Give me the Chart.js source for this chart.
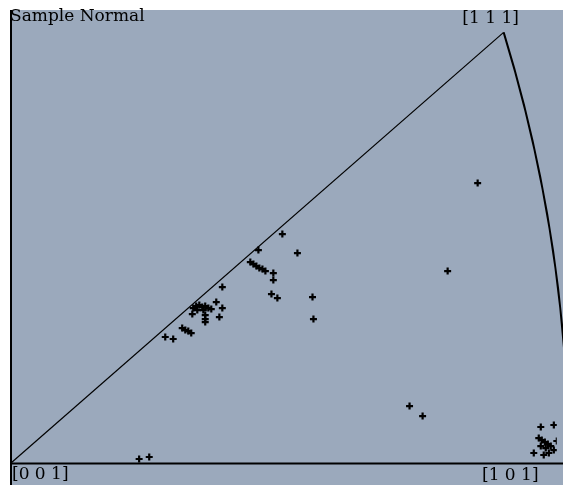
<!DOCTYPE html>
<html>
<head>
<meta charset="utf-8">
<script src="https://cdn.jsdelivr.net/npm/chart.js@4.4.1/dist/chart.umd.min.js"></script>
<style>
  html, body { margin: 0; padding: 0; background: #ffffff; }
  #wrap { width: 563px; height: 488px; }
</style>
</head>
<body>
<div id="wrap"><canvas id="chart" width="563" height="488"></canvas></div>
<script>
// stereographic coordinates of the measured poles (x, y)
const pointX = [0.3467, 0.3244, 0.2016, 0.2128, 0.1838, 0.1778, 0.1801, 0.1823, 0.1845, 0.1868,
    0.1890, 0.1949, 0.1949, 0.1935, 0.1979, 0.2240, 0.2247, 0.1570, 0.1525, 0.1354,
    0.1376, 0.1399, 0.1421, 0.1443, 0.1466, 0.1488, 0.1384, 0.1429, 0.1570, 0.1347,
    0.1443, 0.1443, 0.1443, 0.1548, 0.1272, 0.1295, 0.1317, 0.1339, 0.1146, 0.1205,
    0.0952, 0.1027, 0.2961, 0.3058, 0.3936, 0.4033, 0.3921, 0.3943, 0.3966, 0.3988,
    0.3936, 0.3973, 0.4010, 0.4033, 0.3996, 0.3958, 0.3884, 0.4098, 0.4055];
const pointY = [0.2379, 0.1631, 0.1946, 0.1784, 0.1810, 0.1708, 0.1691, 0.1674, 0.1657, 0.1648,
    0.1631, 0.1614, 0.1555, 0.1436, 0.1402, 0.1410, 0.1223, 0.1495, 0.1368, 0.1317,
    0.1334, 0.1342, 0.1325, 0.1334, 0.1317, 0.1308, 0.1300, 0.1300, 0.1317, 0.1266,
    0.1257, 0.1223, 0.1198, 0.1240, 0.1147, 0.1130, 0.1121, 0.1104, 0.1071, 0.1054,
    0.0034, 0.0051, 0.0484, 0.0399, 0.0306, 0.0323, 0.0212, 0.0195, 0.0178, 0.0161,
    0.0144, 0.0127, 0.0144, 0.0110, 0.0085, 0.0068, 0.0085, 0.0153, 0.0187];

// corners of the standard triangle
const poleLabels = ['[0 0 1]', '[1 0 1]', '[1 1 1]'];
const poleX = [0, 0.4142, 0.366];
const poleY = [0, 0, 0.366];
const title = 'Sample Normal';

const bgColor = '#9ba9bc';

let pts = pointX.map((x, i) => ({x: x, y: pointY[i]}));

const trianglePlugin = {
    id: 'triangle',
    beforeDraw(chart) {
        let ctx = chart.ctx;
        ctx.save();
        ctx.fillStyle = '#ffffff';
        ctx.fillRect(0, 0, chart.width, chart.height);
        ctx.fillStyle = bgColor;
        ctx.fillRect(10, 10, chart.width - 10, 475);
        ctx.restore();
    },
    afterDatasetsDraw(chart) {
        let ctx = chart.ctx;
        let xs = chart.scales.x, ys = chart.scales.y;
        ctx.save();
        ctx.strokeStyle = '#000000';

        // left and bottom frame
        ctx.lineWidth = 2;
        ctx.beginPath();
        ctx.moveTo(11, 10);
        ctx.lineTo(11, 485);
        ctx.stroke();
        ctx.beginPath();
        ctx.moveTo(10, ys.getPixelForValue(0) + 0.5);
        ctx.lineTo(chart.width, ys.getPixelForValue(0) + 0.5);
        ctx.stroke();

        // [001] - [111] edge
        ctx.lineWidth = 1.2;
        ctx.beginPath();
        ctx.moveTo(xs.getPixelForValue(poleX[0]), ys.getPixelForValue(poleY[0]));
        ctx.lineTo(xs.getPixelForValue(poleX[2]), ys.getPixelForValue(poleY[2]));
        ctx.stroke();

        // [101] - [111] great circle: centre (-1, 0), radius sqrt(2)
        let cx = xs.getPixelForValue(-1), cy = ys.getPixelForValue(0);
        let rx = xs.getPixelForValue(-1 + Math.SQRT2) - cx;
        let ry = cy - ys.getPixelForValue(Math.SQRT2);
        let a1 = Math.atan2(poleY[2], poleX[2] + 1);
        ctx.lineWidth = 2;
        ctx.beginPath();
        ctx.ellipse(cx, cy, rx, ry, 0, -a1, 0);
        ctx.stroke();

        // labels
        ctx.fillStyle = '#000000';
        ctx.font = '17px "DejaVu Serif"';
        ctx.textBaseline = 'top';
        ctx.textAlign = 'left';
        ctx.fillText(title, 10, 8);
        ctx.fillText(poleLabels[0], 12, 466);
        ctx.fillText(poleLabels[1], 482, 467);
        ctx.textAlign = 'center';
        ctx.fillText(poleLabels[2], xs.getPixelForValue(poleX[2]) - 13, 10);
        ctx.restore();
    }
};

new Chart(document.getElementById('chart'), {
    type: 'scatter',
    data: {
        datasets: [{
            label: 'poles',
            data: pts,
            pointStyle: 'cross',
            pointRadius: 3.5,
            pointBorderWidth: 2.2,
            borderColor: '#000000',
            backgroundColor: '#000000'
        }]
    },
    options: {
        responsive: false,
        animation: false,
        layout: { padding: { left: 11, right: 1, top: 10, bottom: 25 } },
        plugins: {
            legend: { display: false },
            tooltip: { enabled: false }
        },
        scales: {
            x: { type: 'linear', min: 0, max: 0.4055, display: false },
            y: { type: 'linear', min: 0, max: 0.385, display: false }
        }
    },
    plugins: [trianglePlugin]
});
</script>
</body>
</html>
